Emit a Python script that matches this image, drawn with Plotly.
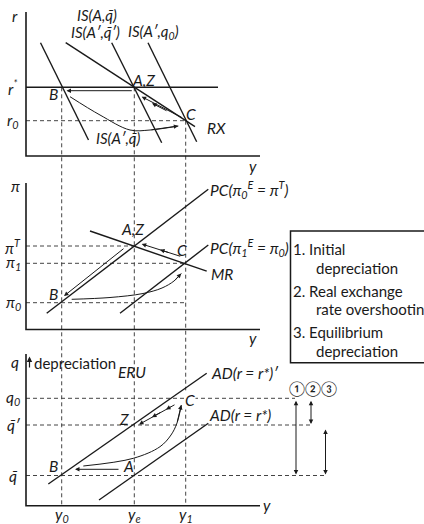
import plotly.graph_objects as go

# ---------------- data (diagram coordinates: x = output, y = vertical position in figure) -------------
# output levels shared by the three panels
out_labels = ["y<sub>0</sub>", "y<sub>e</sub>", "y<sub>1</sub>"]
out_x = [61.7, 134.3, 185.7]

# top panel (r)
r_labels = ["r<sup>*</sup>", "r<sub>0</sub>"]
r_vals = [87.3, 120.7]
is_names = ["IS(A′,q̄)", "IS(A,q̄)", "IS(A′,q<sub>0</sub>)", "RX"]
is_x = [[40.5, 88.5], [111.7, 161.7], [148.0, 196.7], [65.7, 195.0]]
is_y = [[42.7, 140.0], [42.7, 142.7], [42.7, 141.7], [42.7, 126.7]]

# middle panel (pi)
pi_labels = ["π<sup>T</sup>", "π<sub>1</sub>", "π<sub>0</sub>"]
pi_vals = [246.0, 263.3, 302.7]
pc_x = [[46.7, 208.3], [120.0, 208.3], [90.0, 206.7]]
pc_y = [[313.3, 189.3], [313.3, 245.0], [231.0, 271.2]]

# bottom panel (q)
q_labels = ["q<sub>0</sub>", "q̄′", "q̄"]
q_vals = [398.3, 425.0, 475.5]
ad_x = [[48.3, 206.7], [99.0, 208.3]]
ad_y = [[484.0, 373.3], [500.0, 423.3]]

# adjustment paths
path_top_x = [70, 100, 130, 150, 178.3]
path_top_y = [96.7, 115, 130, 130, 126]
path_mid_x = [71.7, 110, 143, 162, 174, 181.3]
path_mid_y = [299.3, 297.5, 293.5, 288, 281, 273.5]
path_bot_x = [83.3, 133.3, 160, 171, 177, 181.3]
path_bot_y = [466, 458.3, 446.7, 435, 423, 405]

legend_lines = ["1. Initial", "depreciation", "2. Real exchange", "rate overshooting",
                "3. Equilibrium", "depreciation"]

# ---------------- figure ----------------
fig = go.Figure()
BLACK = "#1a1a1a"
GREY = "#444444"
FONT = "Lato"
FS = 15.5


def line(xs, ys, width=1.4, dash=None, color=BLACK, shape="linear"):
    fig.add_trace(go.Scatter(x=xs, y=ys, mode="lines", hoverinfo="skip", showlegend=False,
                             line=dict(color=color, width=width, dash=dash, shape=shape,
                                       smoothing=1.0)))


def arrow(x0, y0, x1, y1, both=False, width=1.0, size=0.9):
    fig.add_annotation(x=x1, y=y1, ax=x0, ay=y0, xref="x", yref="y", axref="x", ayref="y",
                       showarrow=True, arrowhead=2, arrowsize=size, arrowwidth=width,
                       arrowcolor=BLACK, arrowside="end+start" if both else "end",
                       startarrowhead=2, startarrowsize=size, text="")


def label(x, y, t, anchor="center", size=FS, italic=True, color=BLACK, bg=None):
    fig.add_annotation(x=x, y=y, xref="x", yref="y", showarrow=False,
                       text=("<i>%s</i>" % t) if italic else t, xanchor=anchor, yanchor="middle",
                       font=dict(family=FONT, size=size, color=color),
                       bgcolor=bg, borderpad=0)


DASH = "4px,3px"

# vertical dashed lines (output levels)
vert_top = [r_vals[0], r_vals[0], r_vals[1]]
for xv, yt in zip(out_x, vert_top):
    line([xv, xv], [yt, 505.7], width=1.0, dash=DASH, color=GREY)

# horizontal dashed lines
line([26, out_x[2]], [r_vals[1]] * 2, width=1.0, dash=DASH, color=GREY)
line([26, out_x[1]], [pi_vals[0]] * 2, width=1.0, dash=DASH, color=GREY)
line([26, out_x[2]], [pi_vals[1]] * 2, width=1.0, dash=DASH, color=GREY)
line([26, out_x[2]], [pi_vals[2]] * 2, width=1.0, dash=DASH, color=GREY)
q_ends = [295, 311.7, 326.7]
for qv, qe in zip(q_vals, q_ends):
    line([26, qe], [qv, qv], width=1.0, dash=DASH, color=GREY)

# axes of the three panels
for top, bot in [(12, 156), (183, 329.5), (354, 505.7)]:
    line([26, 26, 260], [top, bot, bot], width=1.6)

# top panel
line([26, 218], [r_vals[0]] * 2, width=1.6)
for xs, ys in zip(is_x, is_y):
    line(xs, ys, width=1.4)

# middle panel
for xs, ys in zip(pc_x, pc_y):
    line(xs, ys, width=1.4)

# bottom panel
for xs, ys in zip(ad_x, ad_y):
    line(xs, ys, width=1.4)

# adjustment paths (curves)
line(path_top_x, path_top_y, width=1.0, shape="spline")
arrow(path_top_x[-2], path_top_y[-2], path_top_x[-1], path_top_y[-1])
line(path_mid_x, path_mid_y, width=1.0, shape="spline")
arrow(path_mid_x[-2], path_mid_y[-2], path_mid_x[-1], path_mid_y[-1])
line(path_bot_x, path_bot_y, width=1.0, shape="spline")
arrow(path_bot_x[-2], path_bot_y[-2], path_bot_x[-1], path_bot_y[-1])

# straight arrows
arrow(133.3, 90.7, 66.5, 90.7)                    # A -> B (top)
arrow(183.3, 118.3, 141.7, 96.7)                  # C -> A (top, along RX)
arrow(168, 111.5, 152, 103.2)
arrow(125, 247.5, 64, 296)                        # A -> B (middle)
arrow(181.7, 256.7, 141.7, 244)                   # C -> A (middle, along MR)
arrow(170, 253, 160, 249.8)
arrow(120, 469.3, 75, 469.3)                      # A -> B (bottom)
arrow(176, 404, 139, 424.5)                       # C -> Z (bottom)
arrow(162, 411.6, 152, 417.2)
arrow(172, 406.2, 166, 409.5)
arrow(29.5, 369, 29.5, 356.5, width=1.2)          # depreciation arrow

# double arrows
arrow(296, q_vals[0] + 1, 296, q_vals[2] - 1, both=True)
arrow(311, q_vals[0] + 1, 311, q_vals[1] - 1, both=True)
arrow(325.5, q_vals[1] + 3, 325.5, q_vals[2] - 1, both=True)

# legend box
fig.add_shape(type="rect", x0=290.5, y0=231, x1=432, y1=362.7, xref="x", yref="y",
              line=dict(color=BLACK, width=1.5))
leg_x = [291.5, 314.5, 291.5, 314.5, 291.5, 314.5]
leg_y = [249.3, 268.3, 290.7, 309.3, 331.7, 350.7]
for t, lx, ly in zip(legend_lines, leg_x, leg_y):
    label(lx, ly, t, anchor="left", italic=False, size=15)

# ---------------- labels ----------------
# axis titles
label(15, 16, "r")
label(253, 166, "y")
label(15, 186, "π")
label(253, 338, "y")
label(15, 362, "q")
label(32.5, 362.5, "depreciation", anchor="left", italic=False, size=15)
label(267, 505, "y")

# level labels
for t, v in zip(r_labels, r_vals):
    label(13, v, t)
for t, v in zip(pi_labels, pi_vals):
    label(13, v, t)
for t, v in zip(q_labels, q_vals):
    label(13, v, t)
for t, v in zip(out_labels, out_x):
    label(v, 515, t)

# curve labels
label(97, 15, "IS(A,q̄)", size=15)
label(95, 32, "IS(A′,q̄′)", size=15)
label(153, 32, "IS(A′,q<sub>0</sub>)", size=15)
label(118, 138, "IS(A′,q̄)", size=15)
label(206, 128, "RX", anchor="left")
label(143, 80, "A,Z")
label(53.5, 93.5, "B")
label(191, 113.5, "C")

label(209, 189.5, "PC(π<sub>0</sub><sup>E</sup> = π<sup>T</sup>)", anchor="left")
label(209, 247, "PC(π<sub>1</sub><sup>E</sup> = π<sub>0</sub>)", anchor="left")
label(210, 273.5, "MR", anchor="left")
label(132, 228.5, "A,Z")
label(182, 250, "C")
label(53.5, 294, "B")

label(131.5, 371.5, "ERU")
label(210, 373.3, "AD(r = r*)′", anchor="left")
label(208, 415, "AD(r = r*)", anchor="left")
label(190, 400, "C", bg="white")
label(123.5, 418.5, "Z")
label(53.5, 466, "B")
label(128.5, 466, "A")
label(312.5, 388.5, "①②③", italic=False, size=14.5)

fig.update_layout(
    width=424, height=524, margin=dict(l=0, r=0, t=0, b=0),
    paper_bgcolor="white", plot_bgcolor="white",
    xaxis=dict(range=[0, 424], visible=False, fixedrange=True),
    yaxis=dict(range=[524, 0], visible=False, fixedrange=True),
    showlegend=False,
)
fig.write_html("out.html", config={"displayModeBar": False},
               post_script="document.body.style.margin='0';")
